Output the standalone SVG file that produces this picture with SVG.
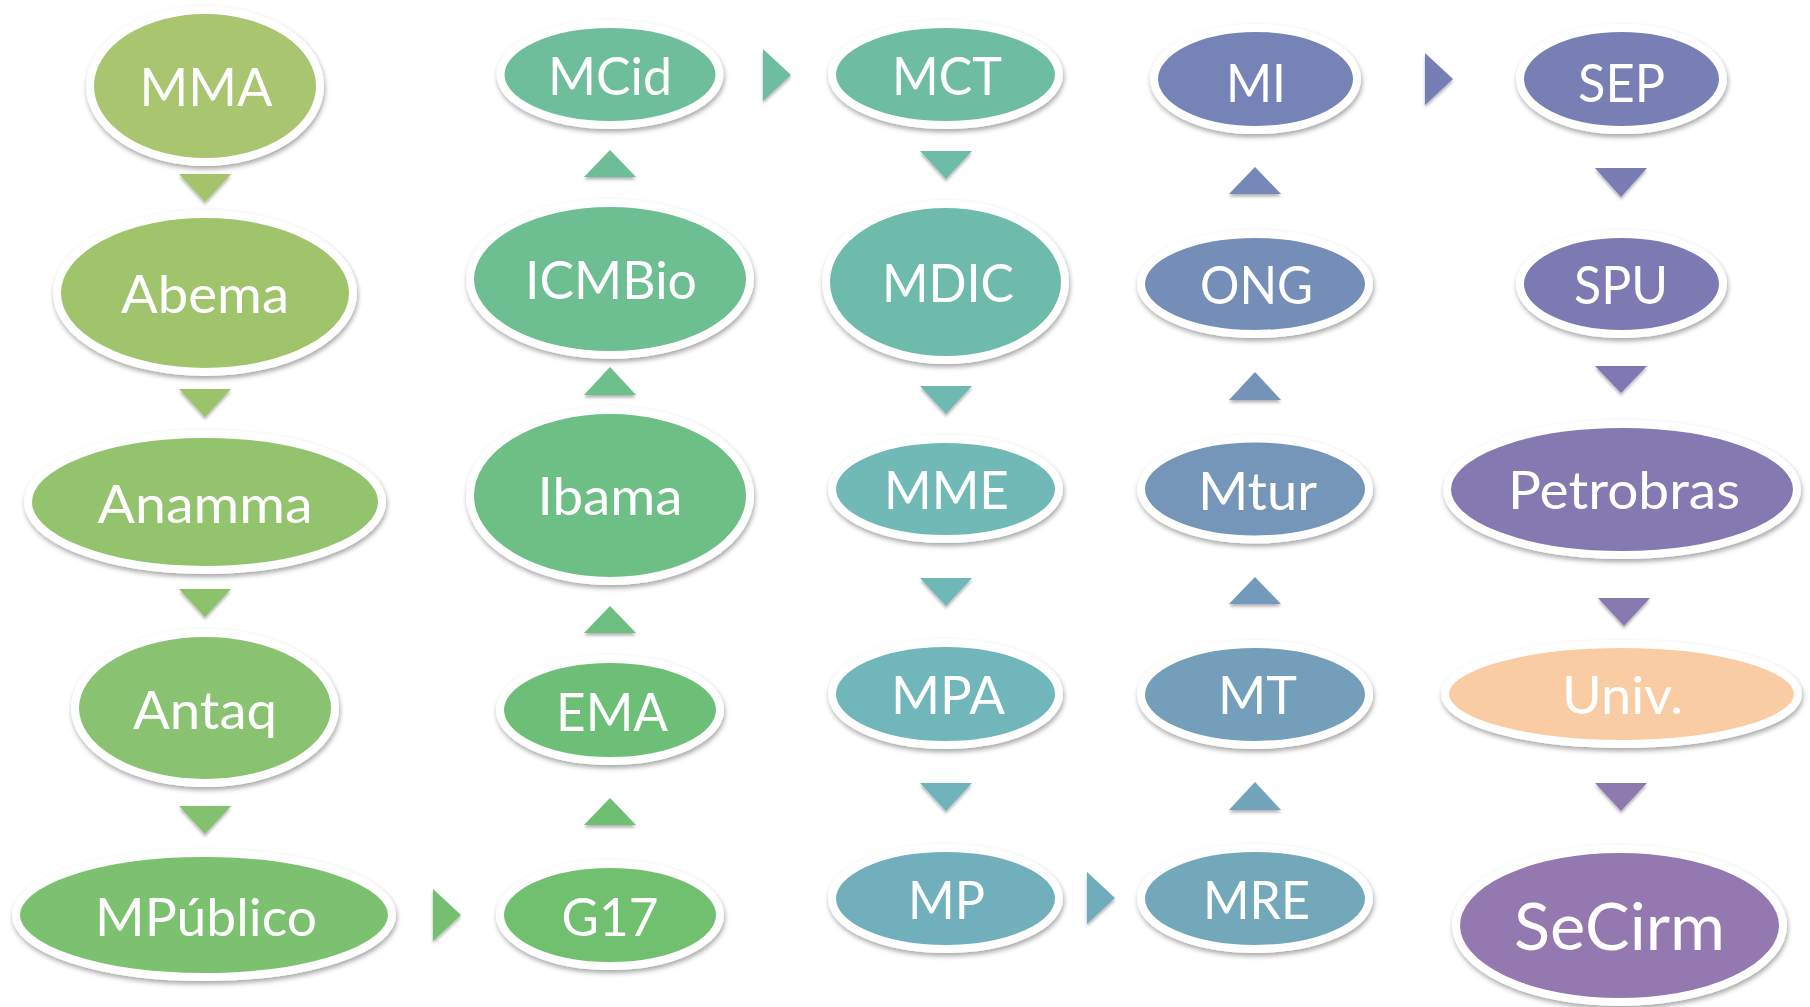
<svg xmlns="http://www.w3.org/2000/svg" width="1810" height="1007" viewBox="0 0 1810 1007">
<defs>
<filter id="sh" x="-20%" y="-20%" width="140%" height="150%">
<feDropShadow dx="1" dy="3" stdDeviation="2.5" flood-color="#000" flood-opacity="0.35"/>
</filter>
<filter id="ash" x="-30%" y="-30%" width="160%" height="180%">
<feDropShadow dx="0" dy="2.5" stdDeviation="1.5" flood-color="#000" flood-opacity="0.3"/>
</filter>
</defs>
<style>
.n ellipse{stroke:#fff;stroke-width:8;filter:url(#sh)}
.n text{font-family:Lato,"Open Sans","Liberation Sans",sans-serif;font-size:52px;fill:#fff;text-anchor:middle;lengthAdjust:spacingAndGlyphs}
#conn path{filter:url(#ash)}
</style>
<rect width="1810" height="1007" fill="#fff"/>
<g id="conn">
<path d="M179,174 L231,174 L205,202 Z" fill="#A3C46B"/>
<path d="M179,389 L231,389 L205,417 Z" fill="#9AC36B"/>
<path d="M179,589 L231,589 L205,617 Z" fill="#8DC26D"/>
<path d="M179,806 L231,806 L205,834 Z" fill="#82C16E"/>
<path d="M433,889 L433,941 L461,915 Z" fill="#74C06F"/>
<path d="M584,825 L636,825 L610,798 Z" fill="#6EBF72"/>
<path d="M584,633 L636,633 L610,606 Z" fill="#6DBF7F"/>
<path d="M584,395 L636,395 L610,367 Z" fill="#6DBF8B"/>
<path d="M584,177 L636,177 L610,150 Z" fill="#6DBE96"/>
<path d="M763,49 L763,101 L791,75 Z" fill="#6EBDA0"/>
<path d="M920,151 L972,151 L946,179 Z" fill="#6EBCA8"/>
<path d="M920,386 L972,386 L946,414 Z" fill="#6EBAB1"/>
<path d="M920,578 L972,578 L946,606 Z" fill="#6FB8B8"/>
<path d="M920,783 L972,783 L946,811 Z" fill="#6FB3BB"/>
<path d="M1087,872 L1087,924 L1115,898 Z" fill="#71ACBB"/>
<path d="M1229,810 L1281,810 L1255,782 Z" fill="#72A4BA"/>
<path d="M1229,604 L1281,604 L1255,577 Z" fill="#739ABA"/>
<path d="M1229,400 L1281,400 L1255,372 Z" fill="#7592B8"/>
<path d="M1229,194 L1281,194 L1255,167 Z" fill="#7588B7"/>
<path d="M1425,53 L1425,105 L1453,79 Z" fill="#767FB5"/>
<path d="M1595,168 L1647,168 L1621,197 Z" fill="#7A7BB4"/>
<path d="M1595,366 L1647,366 L1621,393 Z" fill="#8078B2"/>
<path d="M1598,598 L1650,598 L1624,626 Z" fill="#8879B1"/>
<path d="M1595,783 L1647,783 L1621,811 Z" fill="#8E79B0"/>
</g>
<g id="MMA" class="n"><ellipse cx="205" cy="86" rx="115" ry="76" fill="#A9C56F"/><text x="206" y="106" textLength="133" lengthAdjust="spacingAndGlyphs">MMA</text></g>
<g id="Abema" class="n"><ellipse cx="205" cy="293" rx="148" ry="79" fill="#A0C46C"/><text x="205" y="313" textLength="168" lengthAdjust="spacingAndGlyphs">Abema</text></g>
<g id="Anamma" class="n"><ellipse cx="205" cy="502" rx="177" ry="68" fill="#94C36E"/><text x="205" y="523" textLength="215" lengthAdjust="spacingAndGlyphs">Anamma</text></g>
<g id="Antaq" class="n"><ellipse cx="205" cy="708" rx="130" ry="75" fill="#89C270"/><text x="205" y="729" textLength="144" lengthAdjust="spacingAndGlyphs">Antaq</text></g>
<g id="MPublico" class="n"><ellipse cx="204" cy="915" rx="188" ry="62" fill="#7CC16F"/><text x="206" y="936" textLength="222" lengthAdjust="spacingAndGlyphs">MPúblico</text></g>
<g id="G17" class="n"><ellipse cx="610" cy="915" rx="110" ry="51" fill="#70C06F"/><text x="610" y="936" textLength="97" lengthAdjust="spacingAndGlyphs">G17</text></g>
<g id="EMA" class="n"><ellipse cx="610" cy="710" rx="110" ry="51" fill="#6DBF78"/><text x="612" y="731" textLength="112" lengthAdjust="spacingAndGlyphs">EMA</text></g>
<g id="Ibama" class="n"><ellipse cx="610" cy="495.5" rx="140" ry="85.5" fill="#6DBF86"/><text x="610" y="515" textLength="145" lengthAdjust="spacingAndGlyphs">Ibama</text></g>
<g id="ICMBio" class="n"><ellipse cx="610" cy="279" rx="140" ry="76" fill="#6DBE91"/><text x="611" y="299" textLength="172" lengthAdjust="spacingAndGlyphs">ICMBio</text></g>
<g id="MCid" class="n"><ellipse cx="610" cy="74.5" rx="109.5" ry="50.5" fill="#6EBE9C"/><text x="610" y="95" textLength="124" lengthAdjust="spacingAndGlyphs">MCid</text></g>
<g id="MCT" class="n"><ellipse cx="945.5" cy="74.5" rx="113.5" ry="50.5" fill="#6EBDA3"/><text x="947" y="95" textLength="110" lengthAdjust="spacingAndGlyphs">MCT</text></g>
<g id="MDIC" class="n"><ellipse cx="945.5" cy="282" rx="119.5" ry="78" fill="#6EBBAC"/><text x="948" y="302" textLength="132" lengthAdjust="spacingAndGlyphs">MDIC</text></g>
<g id="MME" class="n"><ellipse cx="945.5" cy="489" rx="113.5" ry="50" fill="#6FB9B6"/><text x="946.5" y="509" textLength="125" lengthAdjust="spacingAndGlyphs">MME</text></g>
<g id="MPA" class="n"><ellipse cx="945.5" cy="694" rx="113.5" ry="51" fill="#6FB6BA"/><text x="948" y="714" textLength="114" lengthAdjust="spacingAndGlyphs">MPA</text></g>
<g id="MP" class="n"><ellipse cx="945.5" cy="898.5" rx="113.5" ry="50.5" fill="#70AFBB"/><text x="946.5" y="919" textLength="77" lengthAdjust="spacingAndGlyphs">MP</text></g>
<g id="MRE" class="n"><ellipse cx="1255" cy="898.5" rx="114" ry="50.5" fill="#72A8BA"/><text x="1256.5" y="919" textLength="107" lengthAdjust="spacingAndGlyphs">MRE</text></g>
<g id="MT" class="n"><ellipse cx="1255" cy="694.5" rx="114" ry="50.5" fill="#739FBA"/><text x="1257.5" y="714" textLength="79" lengthAdjust="spacingAndGlyphs">MT</text></g>
<g id="Mtur" class="n"><ellipse cx="1255" cy="489" rx="114" ry="50.5" fill="#7496B9"/><text x="1257.5" y="509.5" textLength="119" lengthAdjust="spacingAndGlyphs">Mtur</text></g>
<g id="ONG" class="n"><ellipse cx="1255" cy="284" rx="114" ry="50" fill="#758EB8"/><text x="1256.5" y="304" textLength="113" lengthAdjust="spacingAndGlyphs">ONG</text></g>
<g id="MI" class="n"><ellipse cx="1255.5" cy="79" rx="101.5" ry="51" fill="#7683B6"/><text x="1256" y="102" textLength="60" lengthAdjust="spacingAndGlyphs">MI</text></g>
<g id="SEP" class="n"><ellipse cx="1621.5" cy="79" rx="101.5" ry="51" fill="#777FB5"/><text x="1621.5" y="102" textLength="87" lengthAdjust="spacingAndGlyphs">SEP</text></g>
<g id="SPU" class="n"><ellipse cx="1621.5" cy="284" rx="101.5" ry="50" fill="#7C79B3"/><text x="1621" y="304" textLength="94" lengthAdjust="spacingAndGlyphs">SPU</text></g>
<g id="Petrobras" class="n"><ellipse cx="1622" cy="489.5" rx="175" ry="65.5" fill="#8579B1"/><text x="1624" y="509" textLength="232" lengthAdjust="spacingAndGlyphs">Petrobras</text></g>
<g id="Univ" class="n"><ellipse cx="1621.5" cy="694" rx="176.5" ry="50" fill="#FACCA3"/><text x="1622.5" y="714" textLength="121" lengthAdjust="spacingAndGlyphs">Univ.</text></g>
<g id="SeCirm" class="n"><ellipse cx="1619.5" cy="925.5" rx="163.5" ry="76.5" fill="#9479B0"/><text x="1619.5" y="950" textLength="211" lengthAdjust="spacingAndGlyphs" style="font-size:66px">SeCirm</text></g>
</svg>
